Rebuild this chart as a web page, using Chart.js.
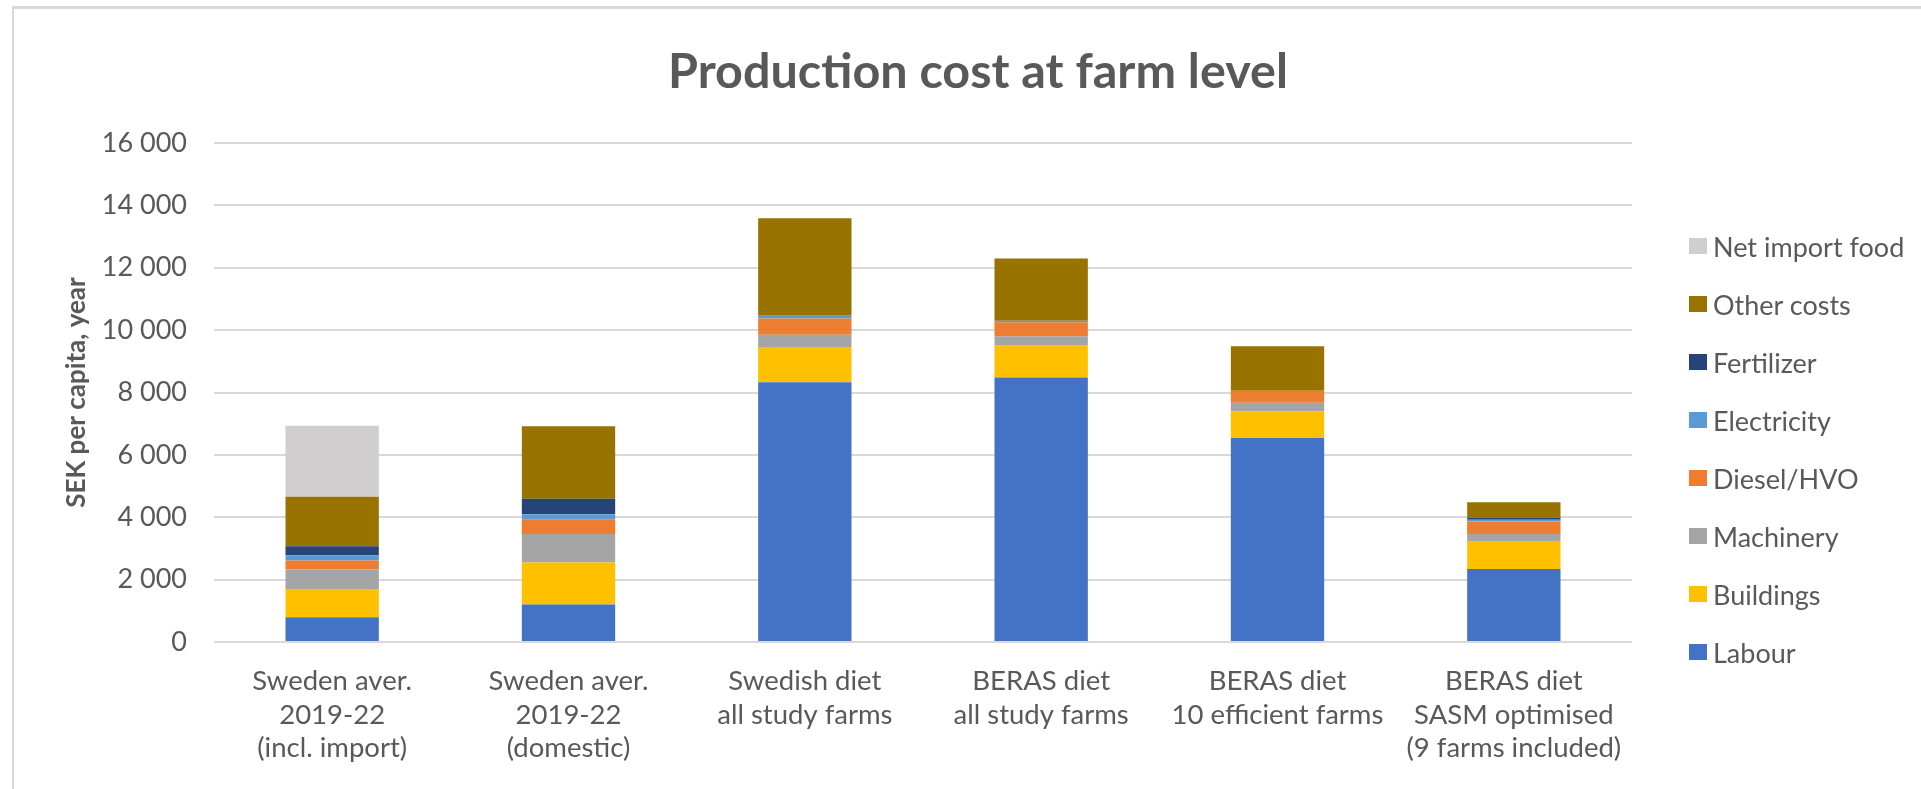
<!DOCTYPE html>
<html lang="en">
  <head>
    <meta charset="UTF-8" />
    <meta name="viewport" content="width=device-width, initial-scale=1.0" />
    <script src="https://cdn.jsdelivr.net/npm/chart.js"></script>
    <title>Production cost at farm level</title>
    <style>
      body {
        margin: 0;
        background: #fff;
        overflow: hidden;
        font-family: Lato, "Open Sans", sans-serif;
        color: #595959;
      }
      .frame {
        position: absolute;
        left: 12px;
        top: 6px;
        width: 2000px;
        height: 900px;
        border-top: 3px solid #d9d9d9;
        border-left: 2px solid #d9d9d9;
      }
      .title {
        position: absolute;
        left: 0;
        top: 45px;
        width: 1956px;
        text-align: center;
        font-weight: bold;
        font-size: 48.5px;
        line-height: 48.5px;
        white-space: nowrap;
      }
      .chart-box {
        position: absolute;
        left: 14px;
        top: 9px;
        width: 1907px;
        height: 780px;
      }
      #legend {
        position: absolute;
        left: 1689px;
        top: 217px;
        margin: 0;
        padding: 0;
        list-style: none;
      }
      #legend li {
        display: flex;
        align-items: center;
        height: 58px;
        font-size: 27px;
        white-space: nowrap;
      }
      #legend span.box {
        display: inline-block;
        width: 18px;
        height: 16px;
        margin-right: 6px;
      }
    </style>
  </head>
  <body>
    <div class="frame"></div>
    <div class="title">Production cost at farm level</div>
    <div class="chart-box">
      <canvas id="chart"></canvas>
    </div>
    <ul id="legend"></ul>
  </body>
</html>
<script>
  const categories = [
    ["Sweden aver.", "2019-22", "(incl. import)"],
    ["Sweden aver.", "2019-22", "(domestic)"],
    ["Swedish diet", "all study farms"],
    ["BERAS diet", "all study farms"],
    ["BERAS diet", "10 efficient farms"],
    ["BERAS diet", "SASM optimised", "(9 farms included)"],
  ];

  // SEK per capita and year, stacked from the bottom up
  const labour = [790, 1200, 8330, 8480, 6540, 2340];
  const buildings = [910, 1350, 1130, 1040, 850, 900];
  const machinery = [630, 910, 390, 280, 280, 220];
  const diesel = [280, 460, 520, 450, 390, 400];
  const electricity = [170, 180, 90, 50, 0, 60];
  const fertilizer = [290, 490, 0, 0, 0, 60];
  const otherCosts = [1590, 2330, 3130, 2000, 1420, 500];
  const netImport = [2270, 0, 0, 0, 0, 0];

  const yTickLabels = ["0", "2 000", "4 000", "6 000", "8 000", "10 000", "12 000", "14 000", "16 000"];

  const series = [
    { label: "Labour", data: labour, color: "#4472c4" },
    { label: "Buildings", data: buildings, color: "#ffc000" },
    { label: "Machinery", data: machinery, color: "#a5a5a5" },
    { label: "Diesel/HVO", data: diesel, color: "#ed7d31" },
    { label: "Electricity", data: electricity, color: "#5b9bd5" },
    { label: "Fertilizer", data: fertilizer, color: "#264478" },
    { label: "Other costs", data: otherCosts, color: "#997300" },
    { label: "Net import food", data: netImport, color: "#d0cece" },
  ];

  const fontFamily = 'Lato, "Open Sans", sans-serif';
  Chart.defaults.font.family = fontFamily;
  Chart.defaults.color = "#595959";

  // builds the side legend as a list, top item = last dataset
  const htmlLegend = {
    id: "htmlLegend",
    afterUpdate(chart) {
      const ul = document.getElementById("legend");
      ul.innerHTML = "";
      chart.data.datasets
        .slice()
        .reverse()
        .forEach((ds) => {
          const li = document.createElement("li");
          const box = document.createElement("span");
          box.className = "box";
          box.style.background = ds.backgroundColor;
          li.appendChild(box);
          li.appendChild(document.createTextNode(ds.label));
          ul.appendChild(li);
        });
    },
  };

  const ctx = document.getElementById("chart").getContext("2d");

  new Chart(ctx, {
    type: "bar",
    data: {
      labels: categories,
      datasets: series.map((s) => ({
        label: s.label,
        data: s.data,
        backgroundColor: s.color,
        borderWidth: 0,
        barPercentage: 0.395,
        categoryPercentage: 1,
      })),
    },
    options: {
      responsive: true,
      maintainAspectRatio: false,
      animation: false,
      layout: {
        padding: { top: 134, right: 289, bottom: 0, left: 0 },
      },
      plugins: {
        legend: { display: false },
        title: { display: false },
        tooltip: { enabled: false },
      },
      scales: {
        x: {
          stacked: true,
          grid: { display: false, drawTicks: false },
          border: { display: false },
          ticks: {
            padding: 22,
            color: "#595959",
            font: { size: 27.5, lineHeight: 1.23 },
            maxRotation: 0,
            autoSkip: false,
          },
          afterFit(scale) {
            scale.height = 147;
          },
        },
        y: {
          stacked: true,
          min: 0,
          max: 16000,
          grid: { color: "#d9d9d9", lineWidth: 2, drawTicks: false },
          border: { display: false },
          ticks: {
            stepSize: 2000,
            padding: 27,
            color: "#595959",
            font: { size: 27 },
            callback: (value, index) => yTickLabels[index],
          },
          title: {
            display: true,
            text: "SEK per capita, year",
            color: "#595959",
            font: { size: 26, weight: "bold" },
            padding: { top: 47, bottom: 0 },
          },
          afterFit(scale) {
            scale.width = 200;
          },
        },
      },
    },
    plugins: [htmlLegend],
  });
</script>
